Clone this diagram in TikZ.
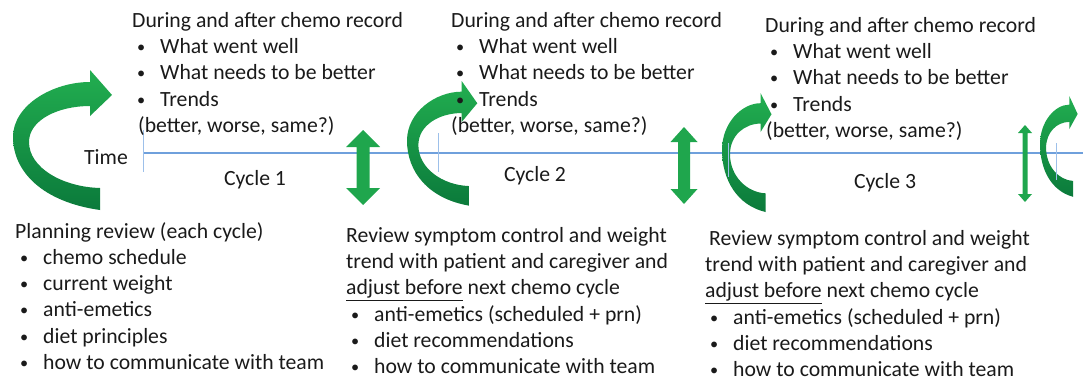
\documentclass[tikz,border=0pt]{standalone}
\usepackage{fontspec}
\setmainfont{Carlito}
\usepackage{tikz}
\usetikzlibrary{positioning,calc}
\definecolor{cycleGreen}{HTML}{22AE50}
\definecolor{cycleDark}{HTML}{0B7A3B}
\definecolor{cycleLine}{HTML}{6FA0DC}
\definecolor{cycleTick}{HTML}{9DC0EA}
\definecolor{cycleText}{HTML}{1A1A1A}
\newcommand\bul{\hspace*{5pt}\makebox[23pt][l]{\raisebox{1pt}{\scalebox{.75}{\textbullet}}}}

\begin{document}
\begin{tikzpicture}[x=1pt,y=-1pt,
  txt/.style={font=\fontsize{21.7}{26.3}\selectfont,align=left,anchor=north west,inner sep=0pt,text=cycleText},
  lbl/.style={font=\fontsize{21.7}{26.3}\selectfont,inner sep=0pt,text=cycleText},
  tline/.style={cycleLine,line width=1.6pt},
  tick/.style={cycleTick,line width=1pt}]
  \useasboundingbox (0,0) rectangle (1083,380);
  % curved arrow: #1,#2 = top left corner, #3,#4 = x and y scale
  \def\turn#1#2#3#4{%
    \shade[top color=cycleGreen,bottom color=cycleDark,shift={(#1,#2)},xscale=#3,yscale=#4]
      (87,140) .. controls (30,132) and (0,102) .. (0,67)
      .. controls (0,35) and (40,12) .. (77,12) -- (77,0) -- (99,25) -- (77,46) -- (77,36)
      .. controls (45,36) and (16,50) .. (16,72)
      .. controls (16,98) and (50,117) .. (87,118) -- cycle;
  }
  % double arrow: x, top, bottom, head half width, shaft half width, head length
  \def\updown#1#2#3#4#5#6{%
    \fill[cycleGreen!85!cycleDark] (#1,#2) -- (#1+#4,#2+#6) -- (#1+#5,#2+#6) -- (#1+#5,#3-#6)
      -- (#1+#4,#3-#6) -- (#1,#3) -- (#1-#4,#3-#6) -- (#1-#5,#3-#6) -- (#1-#5,#2+#6)
      -- (#1-#4,#2+#6) -- cycle;
  }
  \draw[tline] (143,153) -- (1083,153);
  \turn{13}{70}{1}{1}
  \turn{407}{81}{.71}{.89}
  \turn{722}{93}{.5}{.85}
  \turn{1040}{96}{.38}{.72}
  \updown{363}{130}{205}{17}{6.5}{17}
  \updown{684}{127}{204}{13.5}{6}{15}
  \updown{1025}{125}{202}{7}{2.5}{8}
  \foreach \x/\a/\b in {143/130/172,438/133/172,728/143/177,1056/143/180}
    \draw[tick] (\x,\a) -- (\x,\b);

  \node[lbl] (time) at (106,157) {Time};
  \node[lbl] (cyc1) at (255,180) {Cycle 1};
  \node[lbl] (cyc2) at (535,176) {Cycle 2};
  \node[lbl] (cyc3) at (885,183) {Cycle 3};

  \node[txt] (rec1) at (132,12) {During and after chemo record\\
    \bul What went well\\ \bul What needs to be better\\ \bul Trends\\
    \hspace*{6pt}(better, worse, same?)};
  \node[txt] (rec2) at (451,12) {During and after chemo record\\
    \bul What went well\\ \bul What needs to be better\\ \bul Trends\\
    (better, worse, same?)};
  \node[txt] (rec3) at (765,17) {During and after chemo record\\
    \bul What went well\\ \bul What needs to be better\\ \bul Trends\\
    \hspace*{1pt}(better, worse, same?)};

  \node[txt] (plan) at (15,222) {Planning review (each cycle)\\
    \bul chemo schedule\\ \bul current weight\\ \bul anti-emetics\\
    \bul diet principles\\ \bul how to communicate with team};
  \node[txt] (rev1) at (346,227) {Review symptom control and weight\\
    trend with patient and caregiver and\\
    \underline{adjust before} next chemo cycle\\
    \bul anti-emetics (scheduled + prn)\\ \bul diet recommendations\\
    \bul how to communicate with team};
  \node[txt] (rev2) at (705,230) {\hspace*{4pt}Review symptom control and weight\\
    trend with patient and caregiver and\\
    \underline{adjust before} next chemo cycle\\
    \bul anti-emetics (scheduled + prn)\\ \bul diet recommendations\\
    \bul how to communicate with team};
\end{tikzpicture}
\end{document}
